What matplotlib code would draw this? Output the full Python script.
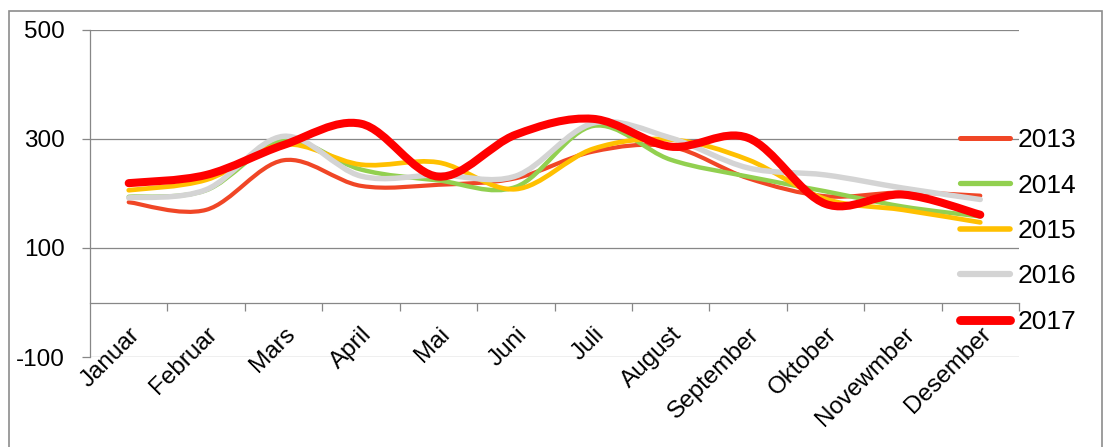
import numpy as np
import matplotlib
matplotlib.use("Agg")
import matplotlib.pyplot as plt
from matplotlib.path import Path
from matplotlib.patches import PathPatch, Rectangle
from matplotlib.lines import Line2D
from matplotlib.transforms import ScaledTranslation

plt.rcParams['font.family'] = ['Liberation Sans', 'DejaVu Sans']
plt.rcParams['axes.unicode_minus'] = False

# values
months = ['Januar', 'Februar', 'Mars', 'April', 'Mai', 'Juni', 'Juli',
          'August', 'September', 'Oktober', 'Novewmber', 'Desember']
y2013 = [184, 170, 261, 214, 216, 228, 277, 286, 228, 195, 202, 196]
y2014 = [194, 206, 297, 244, 224, 212, 324, 262, 231, 204, 176, 158]
y2015 = [206, 225, 290, 253, 257, 208, 282, 299, 262, 190, 170, 147]
y2016 = [192, 207, 305, 232, 234, 232, 329, 302, 247, 234, 210, 189]
y2017 = [219, 234, 289, 328, 231, 308, 337, 286, 302, 181, 198, 161]

series = [
    ('2013', y2013, '#F04626', 3.0),
    ('2014', y2014, '#92D050', 3.2),
    ('2015', y2015, '#FFC000', 3.4),
    ('2016', y2016, '#D4D4D4', 3.9),
    ('2017', y2017, '#FF0000', 5.8),
]

GRAY = '#878787'
FS = 17.5


def smooth_path(xs, ys):
    # Excel style smoothed line: cubic Bezier through every point
    pts = np.column_stack([xs, ys]).astype(float)
    ext = np.vstack([pts[0], pts, pts[-1]])
    verts = [pts[0]]
    codes = [Path.MOVETO]
    for i in range(len(pts) - 1):
        p0, p1, p2, p3 = ext[i], ext[i + 1], ext[i + 2], ext[i + 3]
        verts += [p1 + (p2 - p0) / 6, p2 - (p3 - p1) / 6, p2]
        codes += [Path.CURVE4] * 3
    return Path(verts, codes)


fig = plt.figure(figsize=(11.09, 4.47), dpi=100)
W, H = 1109, 447
ax = fig.add_axes([90 / W, 1 - 357 / H, 929 / W, 327 / H])

x = np.arange(len(months))
handles = []
for name, vals, col, lw in series:
    patch = PathPatch(smooth_path(x, vals), fill=False, edgecolor=col, lw=lw,
                      capstyle='round', joinstyle='round', zorder=3)
    ax.add_patch(patch)
    handles.append(Line2D([], [], color=col, lw=lw + 0.6, solid_capstyle='round'))

ax.set_xlim(-0.5, len(months) - 0.5)
ax.set_ylim(-100, 500)
ax.set_yticks([-100, 100, 300, 500])
ax.grid(axis='y', color=GRAY, lw=0.9)
ax.set_axisbelow(True)

for s in ['top', 'right']:
    ax.spines[s].set_visible(False)
ax.spines['left'].set_color(GRAY)
ax.spines['left'].set_linewidth(0.9)
ax.spines['bottom'].set_position(('data', 0))
ax.spines['bottom'].set_color(GRAY)
ax.spines['bottom'].set_linewidth(0.9)

ax.set_xticks(x)
ax.set_xticklabels(months, rotation=45, ha='right', rotation_mode='anchor')
shift = ScaledTranslation(-7 / 100, 0, fig.dpi_scale_trans)
for lab in ax.get_xticklabels():
    lab.set_transform(lab.get_transform() + shift)
ax.set_xticks(np.arange(0.5, len(months), 1), minor=True)
ax.tick_params(axis='x', which='major', length=0, pad=15, labelsize=FS)
ax.tick_params(axis='x', which='minor', direction='out', length=5.5,
               width=0.9, color=GRAY)
ax.tick_params(axis='y', direction='out', length=5.5, width=0.9, color=GRAY,
               pad=12.5, labelsize=FS)

fig.legend(handles, [s[0] for s in series], loc='center left',
           bbox_to_anchor=(960 / W, 1 - 231 / H), frameon=False,
           fontsize=19, handlelength=1.9, handletextpad=0.27,
           labelspacing=0.81, borderpad=0, borderaxespad=0)

fig.patches.append(Rectangle((9 / W, -0.1), (1102 - 9) / W, 1.1 - 11 / H,
                             transform=fig.transFigure, fill=False,
                             edgecolor='#8C8C8C', lw=1.2))

fig.savefig('out.png', dpi=100)
